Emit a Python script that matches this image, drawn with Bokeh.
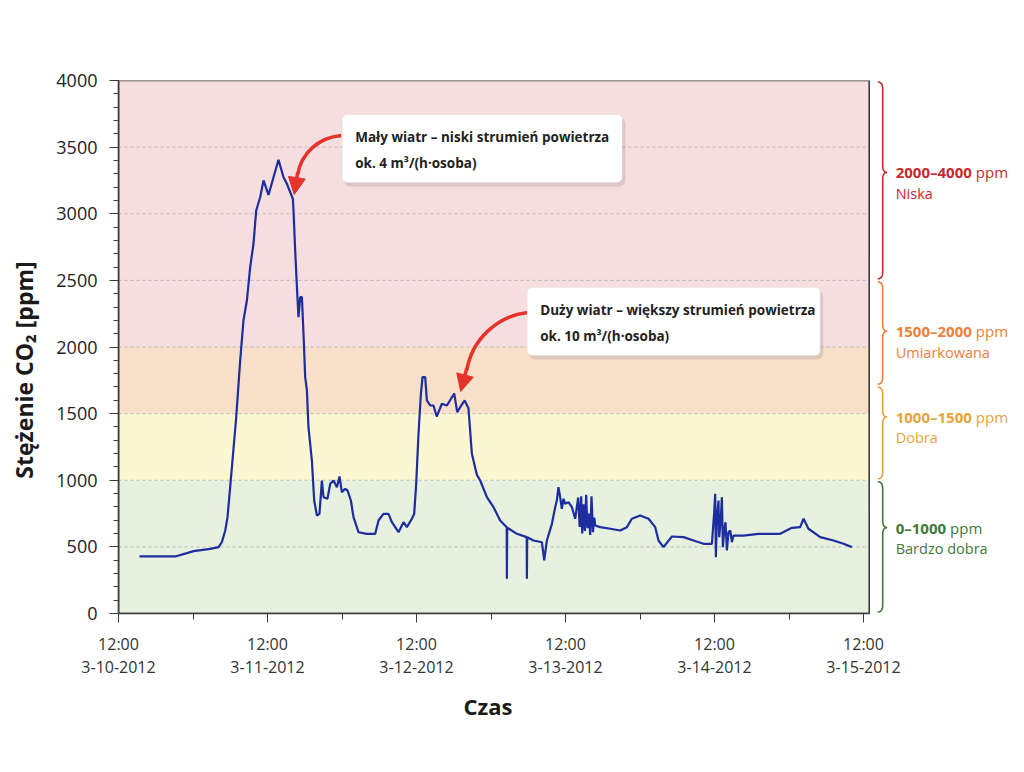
import numpy as np
from bokeh.plotting import figure
from bokeh.models import (Range1d, FixedTicker, SingleIntervalTicker, BoxAnnotation,
                          Label, Arrow, NormalHead, Title)
from bokeh.core.properties import value
from bokeh.embed import file_html
from bokeh.resources import INLINE

# ---------------- data ----------------
# time in hours since 12:00, 3-10-2012
hours = [3.38, 6.72, 9.13, 11.02, 12.08, 14.77, 16.11, 16.65, 17.19, 17.56,
         18.27, 18.96, 19.60, 20.13, 20.68, 21.21, 21.74, 22.18, 22.82, 23.36,
         24.16, 24.97, 25.77, 26.58, 27.12, 28.09, 28.19, 28.46, 28.74, 28.99,
         29.27, 29.54, 29.80, 30.07, 30.35, 30.60, 31.15, 31.52, 31.96, 32.37,
         32.76, 33.02, 33.66, 34.10, 34.63, 35.18, 35.60, 35.98, 36.51, 36.89,
         37.43, 37.85, 38.66, 40.01, 41.35, 41.88, 42.68, 43.49, 44.04, 45.10,
         45.91, 46.45, 47.26, 47.63, 47.95, 48.32, 48.71, 48.97, 49.40, 49.67,
         50.21, 50.74, 51.25, 52.09, 52.90, 54.07, 54.56, 55.04, 55.76, 56.37,
         56.92, 57.73, 58.26, 59.34, 60.40, 61.48, 62.53, 62.56, 62.61, 64.17,
         65.75, 65.78, 65.83, 66.84, 68.20, 68.57, 69.00, 69.81, 70.34, 70.61,
         70.87, 71.14, 71.41, 71.68, 71.95, 72.48, 73.03, 73.56, 74.04, 74.28,
         74.53, 74.69, 74.90, 75.12, 75.33, 75.54, 75.77, 75.98, 76.19, 76.42,
         76.63, 76.79, 77.59, 79.20, 80.81, 81.89, 82.69, 84.03, 85.37, 86.45,
         86.98, 87.78, 89.14, 91.01, 92.62, 94.23, 95.58, 95.95, 96.11, 96.22,
         96.38, 96.64, 96.76, 97.00, 97.19, 97.35, 97.56, 97.77, 98.00, 98.25,
         98.53, 98.80, 99.06, 100.67, 103.09, 106.58, 108.47, 109.80, 110.34, 111.14,
         113.03, 115.17, 116.78, 118.13]

co2 = [428, 428, 428, 453, 468, 485, 498, 535, 623, 723,
       1098, 1473, 1899, 2199, 2349, 2599, 2775, 3024, 3124, 3250,
       3142, 3274, 3405, 3274, 3225, 3112, 3024, 2724, 2449, 2224,
       2374, 2374, 2099, 1774, 1674, 1398, 1148, 848, 735, 748,
       998, 873, 861, 973, 998, 948, 1028, 911, 936, 923,
       848, 723, 610, 598, 598, 698, 748, 748, 685, 610,
       685, 648, 711, 748, 973, 1349, 1649, 1774, 1774, 1599,
       1561, 1561, 1478, 1574, 1561, 1651, 1511, 1548, 1599, 1540,
       1199, 1040, 998, 873, 798, 698, 648, 260, 645, 598,
       573, 260, 572, 548, 535, 398, 548, 673, 798, 850,
       948, 873, 786, 861, 823, 836, 798, 711, 870, 650,
       880, 600, 820, 620, 890, 640, 750, 590, 880, 610,
       720, 660, 648, 636, 623, 648, 711, 735, 711, 648,
       548, 498, 578, 573, 548, 523, 523, 760, 898, 423,
       700, 848, 573, 700, 873, 498, 623, 685, 473, 610,
       623, 535, 585, 585, 598, 598, 643, 648, 711, 636,
       573, 548, 523, 498]

tick_hours = [0, 24, 48, 72, 96, 120]
tick_labels = ["12:00\n3-10-2012", "12:00\n3-11-2012", "12:00\n3-12-2012",
               "12:00\n3-13-2012", "12:00\n3-14-2012", "12:00\n3-15-2012"]
minor_hours = [12, 36, 60, 84, 108]

band_low = [0, 1000, 1500, 2000]
band_high = [1000, 1500, 2000, 4000]
band_colors = ["#e6f2df", "#fcf6d3", "#f8dfca", "#f6dddf"]

# quality legend (braces on the right)
legend_low = [0, 1000, 1710, 2500]
legend_high = [1000, 1710, 2500, 4000]
legend_tip = [645, 1475, 2119, 3310]
legend_range = ["0–1000", "1000–1500", "1500–2000", "2000–4000"]
legend_name = ["Bardzo dobra", "Dobra", "Umiarkowana", "Niska"]
legend_colors = ["#3f7a3a", "#e8a43c", "#ee7e3a", "#c8292d"]

# ---------------- geometry helpers (pixel -> data) ----------------
X_END = 120.92          # right edge of the plotting area (hours)
HPP = 24.0 / 149.0      # hours per pixel
VPP = 4000.0 / 533.0    # ppm per pixel


def hx(px):
    return (px - 118.3) * HPP


def vy(py):
    return (613.0 - py) * VPP


FONT = "Open Sans"

p = figure(width=1016, height=764,
           x_range=Range1d(0, 898 * HPP), y_range=Range1d(0, 4000),
           output_backend="svg", toolbar_location=None,
           min_border_left=118, min_border_right=0,
           min_border_top=80, min_border_bottom=151)
p.xgrid.visible = False
p.ygrid.visible = False
p.outline_line_color = None
p.background_fill_color = "white"
p.border_fill_color = "white"

# quality bands
p.quad(left=0, right=X_END, bottom=band_low, top=band_high,
       fill_color=band_colors, line_color=None)

# dashed grid
grid_vals = list(range(500, 4000, 500))
p.segment(x0=0, y0=grid_vals, x1=X_END, y1=grid_vals,
          line_color="#a8a8a8", line_dash="3 3", line_width=1, line_alpha=0.7)

# frame
p.quad(left=0, right=X_END, bottom=0, top=4000, fill_color=None,
       line_color="#3a3a3a", line_width=1.6)

# data line
p.line(hours, co2, line_color="#1d2c9e", line_width=2.2)

# axes
ya = p.yaxis[0]
ya.ticker = SingleIntervalTicker(interval=500, num_minor_ticks=5)
ya.major_label_text_font = FONT
ya.major_label_text_font_size = "18px"
ya.major_label_text_color = "#222222"
ya.major_tick_out = 9
ya.major_tick_in = 0
ya.minor_tick_out = 5
ya.minor_tick_in = 0
ya.major_label_standoff = 12
ya.axis_line_color = "#3a3a3a"
ya.axis_line_width = 1.6
ya.major_tick_line_color = "#3a3a3a"
ya.minor_tick_line_color = "#3a3a3a"
ya.axis_label = "Stężenie CO₂ [ppm]" + "\u2002" * 4
ya.axis_label_text_font = FONT
ya.axis_label_text_font_size = "23px"
ya.axis_label_text_font_style = "bold"
ya.axis_label_text_color = "#1a1a1a"
ya.axis_label_standoff = 13

xa = p.xaxis[0]
xa.ticker = FixedTicker(ticks=tick_hours, minor_ticks=minor_hours)
xa.major_label_overrides = {h: lbl for h, lbl in zip(tick_hours, tick_labels)}
xa.bounds = (0, X_END)
xa.major_label_text_font = FONT
xa.major_label_text_font_size = "16px"
xa.major_label_text_line_height = 1.05
xa.major_label_text_color = "#333333"
xa.major_tick_out = 9
xa.major_tick_in = 0
xa.minor_tick_out = 6
xa.minor_tick_in = 0
xa.major_label_standoff = 10
xa.axis_line_color = "#3a3a3a"
xa.axis_line_width = 1.6
xa.major_tick_line_color = "#3a3a3a"
xa.minor_tick_line_color = "#3a3a3a"

# x axis title, placed under the data area (not the whole frame)
p.add_layout(Title(text="Czas", align="left", offset=487 - 118 - 24,
                   standoff=16, text_font=FONT, text_font_size="22px",
                   text_font_style="bold", text_color="#1a1a1a"), "below")

# ---------------- callouts ----------------
RED = "#e5332a"
p.bezier(x0=hx(341), y0=vy(135), x1=hx(297.5), y1=vy(174),
         cx0=hx(318), cy0=vy(137), cx1=hx(301), cy1=vy(153),
         line_color=RED, line_width=3.5)
p.add_layout(Arrow(x_start=hx(297.5), y_start=vy(172), x_end=hx(294), y_end=vy(194),
                   line_color=RED, line_width=3.5,
                   end=NormalHead(size=17, fill_color=RED, line_color=RED)))
p.bezier(x0=hx(528), y0=vy(312), x1=hx(466.5), y1=vy(370),
         cx0=hx(498), cy0=vy(315), cx1=hx(472), cy1=vy(338),
         line_color=RED, line_width=3.5)
p.add_layout(Arrow(x_start=hx(466.5), y_start=vy(368), x_end=hx(460.5), y_end=vy(391),
                   line_color=RED, line_width=3.5,
                   end=NormalHead(size=17, fill_color=RED, line_color=RED)))

boxes = [
    (342, 622, 114, 182, ["Mały wiatr – niski strumień powietrza", "ok. 4 m³/(h·osoba)"]),
    (527, 820, 287, 355, ["Duży wiatr – większy strumień powietrza", "ok. 10 m³/(h·osoba)"]),
]
for (l, r, t, b, lines) in boxes:
    p.add_layout(BoxAnnotation(left=hx(l + 2), right=hx(r + 3), top=vy(t + 3), bottom=vy(b + 4),
                               fill_color="black", fill_alpha=0.10, line_color=None,
                               border_radius=6))
    p.add_layout(BoxAnnotation(left=hx(l), right=hx(r), top=vy(t), bottom=vy(b),
                               fill_color="white", fill_alpha=1.0, line_color="#d4d4d4",
                               line_width=1, border_radius=5))
    for k, txt in enumerate(lines):
        p.add_layout(Label(x=hx(l + 13), y=vy(t + 22 + 26 * k), text=txt,
                           text_align="left", text_baseline="middle",
                           text_font=FONT, text_font_size="13.5px", text_font_style="bold",
                           text_color="#222222"))

# ---------------- braces + quality labels ----------------
def quad_pts(a, c, b, n=12):
    t = np.linspace(0, 1, n)[:, None]
    a, c, b = np.array(a), np.array(c), np.array(b)
    return ((1 - t) ** 2) * a + 2 * (1 - t) * t * c + (t ** 2) * b


for lo, hi, tip, col in zip(legend_low, legend_high, legend_tip, legend_colors):
    top_px = 613.0 - hi / VPP + 1.5
    bot_px = 613.0 - lo / VPP - 1.5
    tip_px = 613.0 - tip / VPP
    x0, x1, x2, rr = 877.5, 882.5, 887.0, 7.0
    pts = np.vstack([
        quad_pts((x0, top_px), (x1, top_px), (x1, top_px + rr)),
        [(x1, tip_px - rr)],
        quad_pts((x1, tip_px - rr), (x1, tip_px), (x2, tip_px)),
        quad_pts((x2, tip_px), (x1, tip_px), (x1, tip_px + rr)),
        [(x1, bot_px - rr)],
        quad_pts((x1, bot_px - rr), (x1, bot_px), (x0, bot_px)),
    ])
    p.line(hx(pts[:, 0]), vy(pts[:, 1]), line_color=col, line_width=1.6)

num_w = [(sum(ch.isdigit() for ch in s) * 0.572 + 0.5) * 15 + 4.0 for s in legend_range]
p.text(x=[hx(895.5)] * 4, y=legend_tip, text=legend_range,
       text_font=value(FONT), text_font_size=value("15px"), text_font_style="bold",
       text_color=legend_colors, text_baseline="middle", text_align="left")
p.text(x=[hx(895.5)] * 4, y=legend_tip, text=["ppm"] * 4, x_offset=num_w,
       text_font=value(FONT), text_font_size=value("15px"), text_font_style="normal",
       text_color=legend_colors, text_baseline="middle", text_align="left")
p.text(x=[hx(895.5)] * 4, y=[v - 21 * VPP for v in legend_tip], text=legend_name,
       text_font=value(FONT), text_font_size=value("14.5px"), text_font_style="normal",
       text_color=legend_colors, text_baseline="middle", text_align="left")

open("out.html", "w").write(file_html(p, INLINE))
